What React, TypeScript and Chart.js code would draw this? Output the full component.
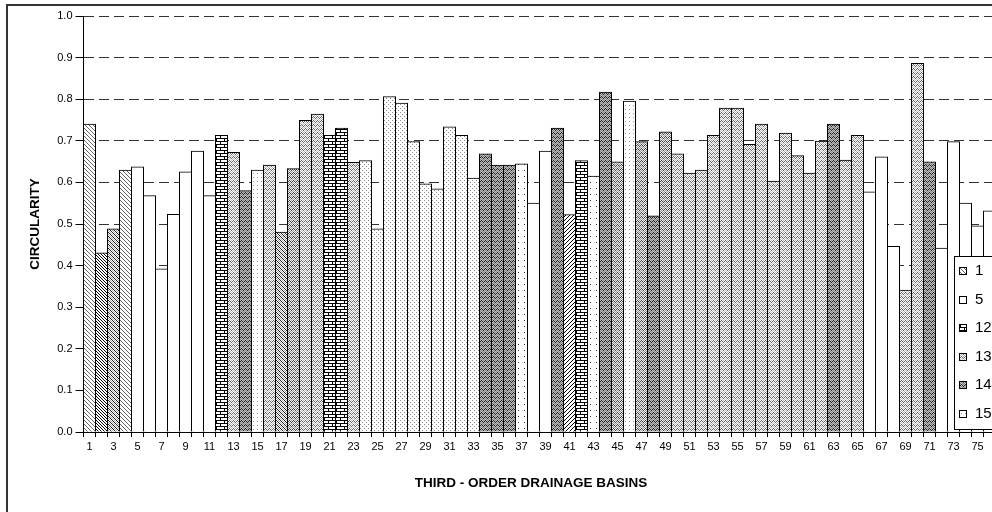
import React, { useEffect, useRef } from 'react';
import { Chart, registerables } from 'chart.js';

Chart.register(...registerables);

const basins = [
  '1', '2', '3', '4', '5', '6', '7', '8', '9', '10',
  '11', '12', '13', '14', '15', '16', '17', '18', '19', '20',
  '21', '22', '23', '24', '25', '26', '27', '28', '29', '30',
  '31', '32', '33', '34', '35', '36', '37', '38', '39', '40',
  '41', '42', '43', '44', '45', '46', '47', '48', '49', '50',
  '51', '52', '53', '54', '55', '56', '57', '58', '59', '60',
  '61', '62', '63', '64', '65', '66', '67', '68', '69', '70',
  '71', '72', '73', '74', '75', '76',
];

const circularity = [
  0.740, 0.430, 0.488, 0.629, 0.637, 0.568, 0.392, 0.523, 0.625, 0.675,
  0.568, 0.713, 0.672, 0.580, 0.629, 0.641, 0.480, 0.633, 0.749, 0.764,
  0.713, 0.730, 0.648, 0.652, 0.488, 0.806, 0.790, 0.698, 0.596, 0.584,
  0.733, 0.713, 0.610, 0.668, 0.641, 0.641, 0.644, 0.550, 0.675, 0.730,
  0.522, 0.652, 0.615, 0.817, 0.649, 0.795, 0.698, 0.519, 0.721, 0.668,
  0.622, 0.629, 0.713, 0.778, 0.778, 0.691, 0.740, 0.603, 0.718, 0.664,
  0.622, 0.699, 0.740, 0.653, 0.713, 0.577, 0.661, 0.446, 0.341, 0.886,
  0.649, 0.442, 0.698, 0.550, 0.495, 0.531,
];

const barPattern = [
  'diag', 'diagDark', 'diagWave', 'diag', 'white', 'white', 'white', 'white', 'white', 'white',
  'white', 'brick', 'wave', 'waveDark', 'dots', 'wave', 'diagWave', 'waveMid', 'wave', 'wave',
  'brick', 'brick', 'wave', 'fineDots', 'fineDots', 'fineDots', 'fineDots', 'fineDots', 'fineDots', 'fineDots',
  'fineDots', 'fineDots', 'fineDots', 'waveDark', 'waveDark', 'waveDark', 'sparseDots', 'white', 'white', 'waveDark',
  'checker', 'brick', 'sparseDots', 'waveDark', 'waveMid', 'dots', 'waveMid', 'waveDark', 'waveMid', 'wave',
  'wave', 'wave', 'wave', 'wave', 'wave', 'wave', 'wave', 'wave', 'wave', 'wave',
  'wave', 'wave', 'waveDark', 'wave', 'wave', 'white', 'white', 'white', 'wave', 'wave',
  'waveDark', 'white', 'white', 'white', 'white', 'white',
];

const legendLabels = ['1', '5', '12', '13', '14', '15'];
const legendPatterns = ['diag', 'white', 'brick', 'wave', 'waveDark', 'dots'];

const xTitle = 'THIRD - ORDER DRAINAGE BASINS';
const yTitle = 'CIRCULARITY';

const FONT = "'Liberation Sans', Arial, sans-serif";

function tile(ctx: CanvasRenderingContext2D, w: number, h: number, bg: string, layers: [string, number[][]][]) {
  const c = document.createElement('canvas');
  c.width = w;
  c.height = h;
  const g = c.getContext('2d')!;
  g.fillStyle = bg;
  g.fillRect(0, 0, w, h);
  for (const [color, pts] of layers) {
    g.fillStyle = color;
    for (const [x, y] of pts) g.fillRect(x, y, 1, 1);
  }
  return ctx.createPattern(c, 'repeat') as CanvasPattern;
}

function buildPatterns(ctx: CanvasRenderingContext2D): Record<string, CanvasPattern | string> {
  return {
    white: '#ffffff',
    diag: tile(ctx, 4, 4, '#fff', [['#666', [[0, 0], [1, 1], [2, 2], [3, 3]]]]),
    diagDark: tile(ctx, 3, 3, '#fff', [['#000', [[0, 0], [1, 1], [2, 2]]]]),
    diagWave: tile(ctx, 4, 4, '#fff', [
      ['#222', [[0, 0], [1, 1], [2, 2], [3, 3]]],
      ['#aaa', [[0, 2], [1, 3], [2, 0], [3, 1]]],
    ]),
    wave: tile(ctx, 4, 4, '#fff', [
      ['#666', [[0, 1], [1, 0], [2, 1], [3, 2]]],
      ['#bbb', [[0, 3], [1, 2], [2, 3], [3, 0]]],
    ]),
    waveMid: tile(ctx, 4, 4, '#eee', [
      ['#444', [[0, 1], [1, 0], [2, 1], [3, 2]]],
      ['#999', [[0, 3], [1, 2], [2, 3], [3, 0]]],
    ]),
    waveDark: tile(ctx, 4, 4, '#bbb', [
      ['#222', [[0, 1], [1, 0], [2, 1], [3, 2]]],
      ['#888', [[0, 3], [1, 2], [2, 3], [3, 0]]],
    ]),
    dots: tile(ctx, 4, 4, '#fff', [['#999', [[1, 1]]]]),
    fineDots: tile(ctx, 4, 4, '#fff', [['#888', [[0, 0], [2, 2]]]]),
    sparseDots: tile(ctx, 6, 6, '#fff', [['#333', [[2, 2]]]]),
    checker: tile(ctx, 4, 4, '#fff', [['#000', [[0, 0], [2, 2], [1, 3], [3, 1]]]]),
    brick: tile(ctx, 8, 6, '#fff', [
      ['#000', [
        [0, 0], [1, 0], [2, 0], [3, 0], [4, 0], [5, 0], [6, 0], [7, 0],
        [0, 3], [1, 3], [2, 3], [3, 3], [4, 3], [5, 3], [6, 3], [7, 3],
        [0, 1], [0, 2], [4, 4], [4, 5],
      ]],
    ]),
  };
}

export default function App() {
  const ref = useRef<HTMLCanvasElement>(null);

  useEffect(() => {
    const canvas = ref.current!;
    const ctx0 = canvas.getContext('2d')!;
    const patterns = buildPatterns(ctx0);

    const frame = {
      id: 'frame',
      beforeDraw(chart: any) {
        const ctx = chart.ctx as CanvasRenderingContext2D;
        ctx.save();
        ctx.fillStyle = '#fff';
        ctx.fillRect(0, 0, chart.width, chart.height);
        ctx.strokeStyle = '#333';
        ctx.lineWidth = 2;
        ctx.strokeRect(7, 5, 1200, 1000);
        ctx.restore();
      },
      afterDraw(chart: any) {
        const ctx = chart.ctx as CanvasRenderingContext2D;
        ctx.save();
        // x axis title
        ctx.fillStyle = '#000';
        ctx.font = `bold 13.5px ${FONT}`;
        ctx.textAlign = 'center';
        ctx.textBaseline = 'middle';
        ctx.fillText(xTitle, 531, 483);
        // legend
        ctx.fillStyle = '#fff';
        ctx.fillRect(954.5, 256.5, 200, 173);
        ctx.strokeStyle = '#000';
        ctx.lineWidth = 1;
        ctx.strokeRect(954.5, 256.5, 200, 173);
        ctx.font = `15px ${FONT}`;
        ctx.textAlign = 'left';
        legendLabels.forEach((lab, i) => {
          const cy = Math.round(271 + i * 28.6);
          ctx.fillStyle = patterns[legendPatterns[i]] as any;
          ctx.fillRect(959.5, cy - 3.5, 7, 7);
          ctx.strokeRect(959.5, cy - 3.5, 7, 7);
          ctx.fillStyle = '#000';
          ctx.fillText(lab, 975, cy);
        });
        ctx.restore();
      },
    };

    const chart = new Chart(canvas, {
      type: 'bar',
      data: {
        labels: basins,
        datasets: [
          {
            data: circularity,
            backgroundColor: circularity.map((_, i) => patterns[barPattern[i]]) as any,
            borderColor: '#000',
            borderWidth: 1,
            borderSkipped: 'start',
            inflateAmount: 0.5,
            barPercentage: 1,
            categoryPercentage: 1,
          } as any,
        ],
      },
      options: {
        responsive: false,
        animation: false,
        devicePixelRatio: 1,
        layout: { padding: { top: 16, right: 4.5, left: 0, bottom: 0 } },
        plugins: {
          legend: { display: false },
          tooltip: { enabled: false },
        },
        scales: {
          x: {
            grid: {
              offset: true,
              drawOnChartArea: false,
              drawTicks: true,
              tickLength: 5,
              tickColor: '#000',
            },
            border: { display: true, color: '#000', width: 1, z: 1 },
            ticks: {
              autoSkip: false,
              maxRotation: 0,
              minRotation: 0,
              padding: 3,
              color: '#000',
              font: { family: FONT, size: 11 },
              callback: (_v: any, i: number) => (i % 2 === 0 ? basins[i] : ''),
            },
            afterFit: (s: any) => {
              s.height = 80;
            },
          },
          y: {
            min: 0,
            max: 1,
            grid: {
              color: '#333',
              lineWidth: 1,
              drawTicks: true,
              tickLength: 8,
              tickColor: '#000',
            },
            border: { display: true, color: '#000', width: 1, dash: [10, 5], z: 1 },
            ticks: {
              stepSize: 0.1,
              padding: 3,
              color: '#000',
              font: { family: FONT, size: 11 },
              callback: (v: any) => Number(v).toFixed(1),
            },
            title: {
              display: true,
              text: yTitle,
              color: '#000',
              font: { family: FONT, size: 13.5, weight: 'bold' },
              padding: { top: 27, bottom: 0 },
            },
            afterFit: (s: any) => {
              s.width = 83.5;
            },
          },
        },
      } as any,
      plugins: [frame],
    });

    return () => chart.destroy();
  }, []);

  return (
    <div
      style={{
        position: 'fixed',
        left: 0,
        top: 0,
        width: 992,
        height: 512,
        overflow: 'hidden',
        background: '#fff',
      }}
    >
      <canvas ref={ref} width={1000} height={512} style={{ display: 'block', width: 1000, height: 512 }} />
    </div>
  );
}
